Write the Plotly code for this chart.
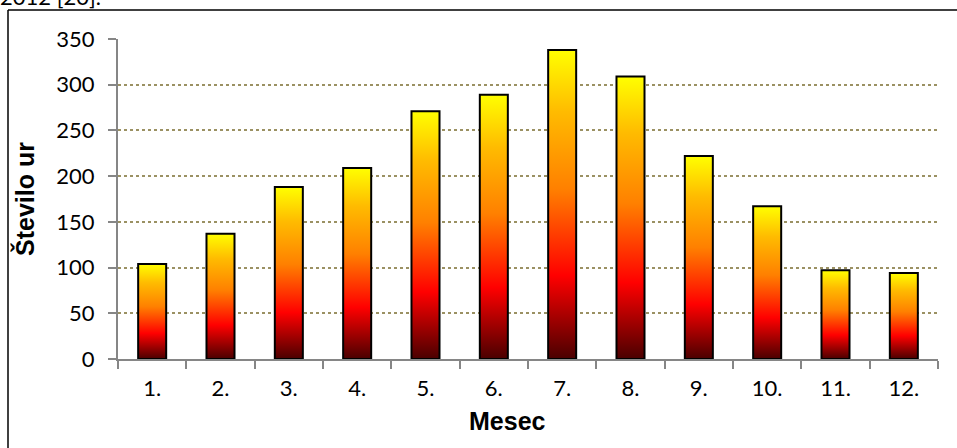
import plotly.graph_objects as go

# Monthly sunshine duration (hours)
months = ["1.", "2.", "3.", "4.", "5.", "6.", "7.", "8.", "9.", "10.", "11.", "12."]
hours = [104, 137, 188, 209, 271, 289, 338, 309, 222, 167, 97, 94]
y_ticks = [0, 50, 100, 150, 200, 250, 300, 350]

BAR_WIDTH = 0.41
AXIS_GREY = "#868686"
GRID_OLIVE = "#9b9163"
# dark red at the base, through red and orange, to yellow at the top
GRADIENT = [
    [0.0, "#4a0000"],
    [0.27, "#ff0000"],
    [0.55, "#ff8000"],
    [0.8, "#ffbb00"],
    [1.0, "#ffff00"],
]
TICK_FONT = dict(family="Lato, Carlito, sans-serif", size=22, color="black")
TITLE_FONT = dict(family="Liberation Sans, Arial, sans-serif", size=25, color="black")

W, H = 957, 448
L, R, T, B = 118, 19, 39, 89
PW, PH = W - L - R, H - T - B


def px_x(p):
    return (p - L) / PW


def px_y(p):
    return (H - B - p) / PH


fig = go.Figure()

for i, (label, value) in enumerate(zip(months, hours), start=1):
    x0, x1 = i - BAR_WIDTH / 2, i + BAR_WIDTH / 2
    fig.add_trace(go.Scatter(
        x=[x0, x0, x1, x1, x0],
        y=[0, value, value, 0, 0],
        mode="lines",
        fill="toself",
        fillgradient=dict(type="vertical", colorscale=GRADIENT, start=0, stop=value),
        line=dict(color="black", width=2),
        name=label,
        showlegend=False,
        hoverinfo="skip",
    ))

fig.update_xaxes(
    range=[0.5, 12.5],
    tickmode="array",
    tickvals=list(range(1, len(months) + 1)),
    ticktext=months,
    ticks="",
    tickfont=TICK_FONT,
    ticklabelstandoff=9,
    showline=True,
    linecolor=AXIS_GREY,
    linewidth=2,
    showgrid=False,
    zeroline=False,
    minor=dict(tick0=0.5, dtick=1, ticks="outside", ticklen=8,
               tickcolor=AXIS_GREY, tickwidth=2, showgrid=False),
)

fig.update_yaxes(
    range=[0, 350],
    tickmode="array",
    tickvals=y_ticks,
    ticks="outside",
    ticklen=8,
    tickcolor=AXIS_GREY,
    tickwidth=2,
    tickfont=TICK_FONT,
    ticklabelstandoff=9,
    showline=True,
    linecolor=AXIS_GREY,
    linewidth=2,
    showgrid=True,
    gridcolor=GRID_OLIVE,
    gridwidth=1.5,
    griddash="dot",
    zeroline=False,
)

annotations = [
    dict(text="<b>Število ur</b>", textangle=-90, font=TITLE_FONT,
         xref="paper", yref="paper", x=px_x(24), y=0.5,
         xanchor="center", yanchor="middle", showarrow=False),
    dict(text="<b>Mesec</b>", font=TITLE_FONT,
         xref="paper", yref="paper", x=px_x(507), y=px_y(421),
         xanchor="center", yanchor="middle", showarrow=False),
    dict(text="2012 [20].", font=TICK_FONT,
         xref="paper", yref="paper", x=px_x(-2), y=px_y(12),
         xanchor="left", yanchor="bottom", showarrow=False),
]

shapes = [
    # frame around the chart
    dict(type="line", xref="paper", yref="paper",
         x0=px_x(8), x1=px_x(W + 5), y0=px_y(10), y1=px_y(10),
         line=dict(color="black", width=1.5)),
    dict(type="line", xref="paper", yref="paper",
         x0=px_x(8), x1=px_x(8), y0=px_y(10), y1=px_y(H + 5),
         line=dict(color="black", width=1.5)),
]

fig.update_layout(
    width=W,
    height=H,
    margin=dict(l=L, r=R, t=T, b=B),
    plot_bgcolor="white",
    paper_bgcolor="white",
    annotations=annotations,
    shapes=shapes,
)

fig.write_html("out.html")
